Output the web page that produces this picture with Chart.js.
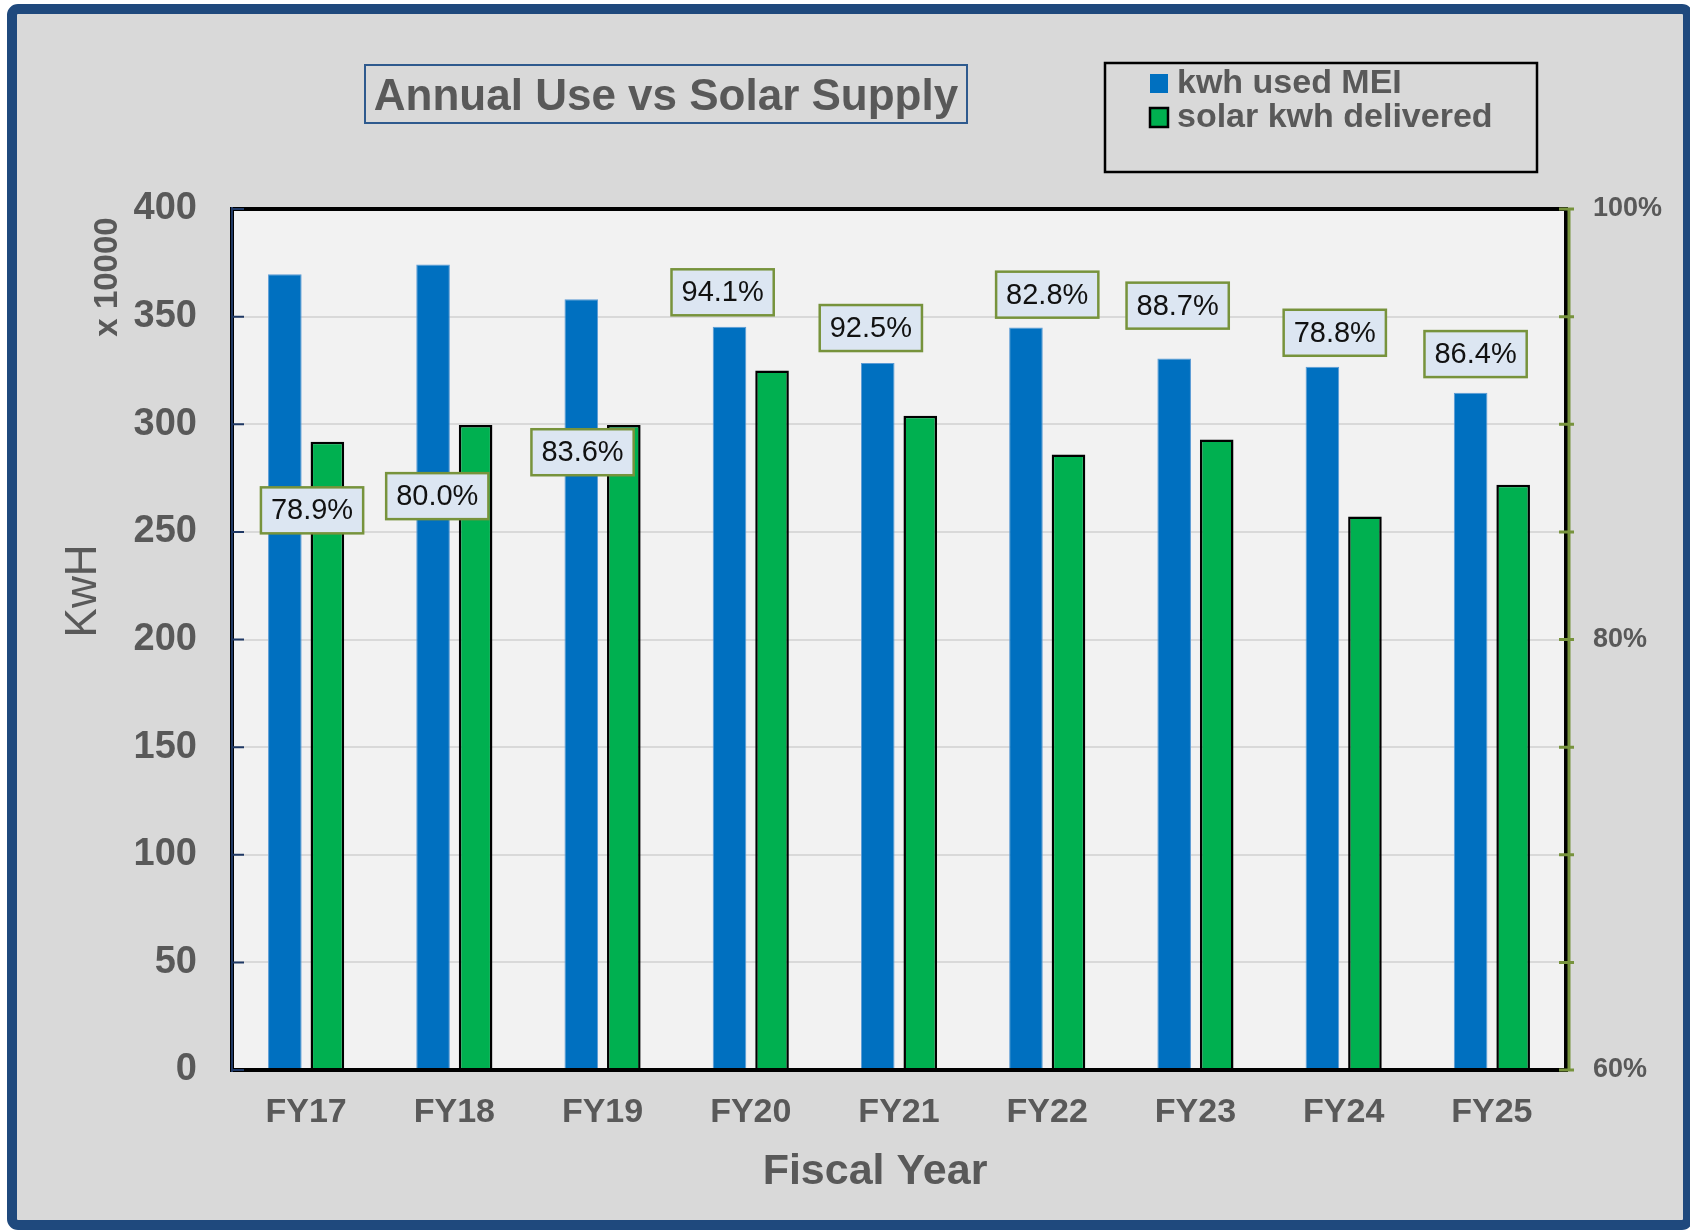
<!DOCTYPE html>
<html>
<head>
<meta charset="utf-8">
<script src="https://cdn.jsdelivr.net/npm/chart.js@4.4.1/dist/chart.umd.min.js"></script>
<style>
  html, body { margin: 0; padding: 0; background: #fff; }
  #wrap { width: 1690px; height: 1232px; }
</style>
</head>
<body>
<div id="wrap"><canvas id="solarChart" width="1690" height="1232"></canvas></div>
<script>
// ---- data (KwH in units of 10000) ----
const years = ['FY17', 'FY18', 'FY19', 'FY20', 'FY21', 'FY22', 'FY23', 'FY24', 'FY25'];
const kwhUsed = [369.7, 374.2, 358.1, 345.3, 328.4, 344.9, 330.6, 326.7, 314.6];
const solarDelivered = [291.9, 299.7, 299.7, 325.0, 304.0, 285.9, 292.9, 257.2, 271.9];
const solarShare = ['78.9%', '80.0%', '83.6%', '94.1%', '92.5%', '82.8%', '88.7%', '78.8%', '86.4%'];
const shareTicks = [60, 80, 100];

// where each share label sits: category index (fractional) and KwH value
const shareLabelAt = [0.04, 0.885, 1.865, 2.81, 3.81, 5.0, 5.88, 6.94, 7.89];
const shareLabelKwh = [260, 266.6, 287, 361.3, 344.7, 360.2, 355.1, 342.5, 332.6];

const FONT = '"Liberation Sans", Arial, sans-serif';
const GREY = '#595959';

const framePlugin = {
    id: 'frame',
    beforeDraw(chart) {
        const ctx = chart.ctx;
        const a = chart.chartArea;
        ctx.save();
        ctx.fillStyle = '#ffffff';
        ctx.fillRect(0, 0, chart.width, chart.height);
        // outer frame
        ctx.fillStyle = '#D9D9D9';
        ctx.strokeStyle = '#1F497D';
        ctx.lineWidth = 10;
        ctx.beginPath();
        ctx.roundRect(12, 9, 1676, 1216, 6);
        ctx.fill();
        ctx.stroke();
        // plot background
        ctx.fillStyle = '#F2F2F2';
        ctx.fillRect(a.left, a.top, a.right - a.left, a.bottom - a.top);
        ctx.restore();
    },
    afterDatasetsDraw(chart) {
        const ctx = chart.ctx;
        const a = chart.chartArea;
        const ys = chart.scales.y, y1 = chart.scales.y1, xs = chart.scales.x;
        ctx.save();

        // plot border
        ctx.strokeStyle = '#000000';
        ctx.lineWidth = 4;
        ctx.strokeRect(a.left, a.top, a.right - a.left, a.bottom - a.top);

        // left axis line + inner ticks
        ctx.strokeStyle = '#1F3864';
        ctx.lineWidth = 2;
        ctx.beginPath();
        ctx.moveTo(a.left, a.top - 2);
        ctx.lineTo(a.left, a.bottom + 2);
        ys.ticks.forEach(t => {
            const py = ys.getPixelForValue(t.value);
            ctx.moveTo(a.left, py);
            ctx.lineTo(a.left + 12, py);
        });
        ctx.stroke();

        // right axis line + crossing ticks
        ctx.strokeStyle = '#77933C';
        ctx.lineWidth = 3;
        ctx.beginPath();
        ctx.moveTo(a.right + 3, a.top - 1);
        ctx.lineTo(a.right + 3, a.bottom + 1);
        y1.ticks.forEach(t => {
            const py = y1.getPixelForValue(t.value);
            ctx.moveTo(a.right - 7, py);
            ctx.lineTo(a.right + 8, py);
        });
        ctx.stroke();

        // share labels
        ctx.font = '29px ' + FONT;
        ctx.textAlign = 'center';
        ctx.textBaseline = 'middle';
        solarShare.forEach((txt, i) => {
            const cx = xs.getPixelForValue(shareLabelAt[i]);
            const cy = ys.getPixelForValue(shareLabelKwh[i]);
            const w = ctx.measureText(txt).width + 20;
            const h = 46;
            ctx.fillStyle = '#DCE6F2';
            ctx.fillRect(cx - w / 2, cy - h / 2, w, h);
            ctx.strokeStyle = '#77933C';
            ctx.lineWidth = 2.5;
            ctx.strokeRect(cx - w / 2, cy - h / 2, w, h);
            ctx.fillStyle = '#111111';
            ctx.fillText(txt, cx, cy + 1);
        });
        ctx.restore();
    },
    afterDraw(chart) {
        const ctx = chart.ctx;
        ctx.save();

        // title box
        ctx.strokeStyle = '#2E5A8E';
        ctx.lineWidth = 2;
        ctx.strokeRect(365, 65, 602, 58);
        ctx.fillStyle = GREY;
        ctx.font = 'bold 44px ' + FONT;
        ctx.textAlign = 'center';
        ctx.textBaseline = 'middle';
        ctx.fillText('Annual Use vs Solar Supply', 666, 98);

        // legend box
        ctx.strokeStyle = '#000000';
        ctx.lineWidth = 2.5;
        ctx.strokeRect(1105, 63, 432, 109);
        ctx.font = 'bold 34px ' + FONT;
        ctx.textAlign = 'left';
        const rows = [83, 117];
        chart.data.datasets.forEach((ds, i) => {
            const my = rows[i];
            ctx.fillStyle = ds.backgroundColor;
            ctx.fillRect(1150, my - 9, 18, 19);
            if (ds.borderColor === '#000000') {
                ctx.strokeStyle = '#000000';
                ctx.lineWidth = 2.5;
                ctx.strokeRect(1150, my - 9, 18, 19);
            }
            ctx.fillStyle = GREY;
            ctx.fillText(ds.label, 1177, my + 1);
        });

        // axis titles
        ctx.textAlign = 'center';
        ctx.fillStyle = GREY;
        ctx.font = 'bold 43px ' + FONT;
        ctx.fillText('Fiscal Year', 875, 1172);

        ctx.translate(84, 591);
        ctx.rotate(-Math.PI / 2);
        ctx.font = '44px ' + FONT;
        ctx.fillText('KwH', 0, 0);
        ctx.setTransform(1, 0, 0, 1, 0, 0);
        ctx.translate(108, 277);
        ctx.rotate(-Math.PI / 2);
        ctx.font = 'bold 33px ' + FONT;
        ctx.fillText('x 10000', 0, 0);
        ctx.restore();
    }
};

const ctx = document.getElementById('solarChart').getContext('2d');
const solarChart = new Chart(ctx, {
    type: 'bar',
    data: {
        labels: years,
        datasets: [{
            label: 'kwh used MEI',
            data: kwhUsed,
            backgroundColor: '#0070C0',
            borderColor: '#5B9BD5',
            borderWidth: 1,
            yAxisID: 'y'
        }, {
            label: 'solar kwh delivered',
            data: solarDelivered,
            backgroundColor: '#00B050',
            borderColor: '#000000',
            borderWidth: 2.5,
            yAxisID: 'y'
        }]
    },
    options: {
        responsive: false,
        animation: false,
        devicePixelRatio: 1,
        categoryPercentage: 0.574,
        barPercentage: 0.79,
        layout: { padding: { top: 209, left: 0, right: 0, bottom: 0 } },
        plugins: {
            legend: { display: false },
            title: { display: false },
            tooltip: { enabled: false }
        },
        scales: {
            x: {
                grid: { display: false },
                border: { display: false },
                ticks: {
                    color: GREY,
                    font: { family: FONT, size: 34, weight: 'bold' },
                    padding: 14
                },
                afterFit(scale) { scale.height = 162; }
            },
            y: {
                position: 'left',
                min: 0,
                max: 400,
                ticks: {
                    stepSize: 50,
                    color: GREY,
                    font: { family: FONT, size: 38, weight: 'bold' },
                    padding: 35
                },
                grid: { color: '#D9D9D9', lineWidth: 2, drawTicks: false },
                border: { display: false },
                afterFit(scale) { scale.width = 232; }
            },
            y1: {
                position: 'right',
                min: 60,
                max: 100,
                ticks: {
                    stepSize: 5,
                    color: GREY,
                    font: { family: FONT, size: 27, weight: 'bold' },
                    padding: 27,
                    callback: v => shareTicks.includes(v) ? v + '%' : ''
                },
                grid: { display: false, drawTicks: false },
                border: { display: false },
                afterFit(scale) { scale.width = 124; }
            }
        }
    },
    plugins: [framePlugin]
});
</script>
</body>
</html>
